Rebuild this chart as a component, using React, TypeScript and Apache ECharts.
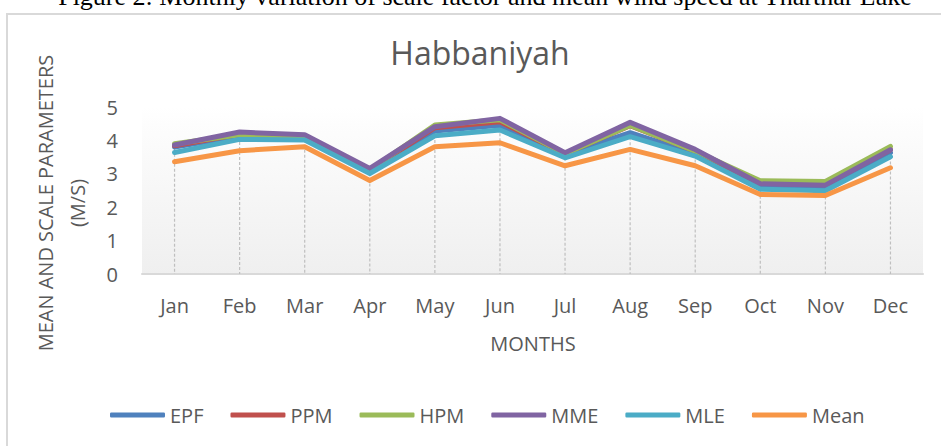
import React, { useEffect, useRef } from "react";
import * as echarts from "echarts";

const months = ["Jan", "Feb", "Mar", "Apr", "May", "Jun", "Jul", "Aug", "Sep", "Oct", "Nov", "Dec"];
const yTicks = [0, 1, 2, 3, 4, 5];
const seriesNames = ["EPF", "PPM", "HPM", "MME", "MLE", "Mean"];
const EPF = [3.8, 4.12, 4.08, 3.1, 4.28, 4.45, 3.58, 4.23, 3.6, 2.64, 2.6, 3.63];
const PPM = [3.84, 4.18, 4.12, 3.12, 4.38, 4.56, 3.6, 4.44, 3.68, 2.72, 2.68, 3.72];
const HPM = [3.9, 4.17, 4.12, 3.12, 4.46, 4.62, 3.6, 4.45, 3.68, 2.79, 2.77, 3.82];
const MME = [3.86, 4.25, 4.17, 3.16, 4.41, 4.66, 3.63, 4.54, 3.73, 2.7, 2.66, 3.72];
const MLE = [3.64, 4.03, 4.01, 3.01, 4.14, 4.31, 3.48, 4.11, 3.53, 2.54, 2.49, 3.51];
const Mean = [3.36, 3.69, 3.81, 2.8, 3.81, 3.93, 3.24, 3.73, 3.24, 2.38, 2.35, 3.18];
const seriesValues = [EPF, PPM, HPM, MME, MLE, Mean];
const colors = ["#4f81bd", "#c0504d", "#9bbb59", "#8064a2", "#4bacc6", "#f79646"];

const chartTitle = "Habbaniyah";
const caption = "Figure 2: Monthly variation of scale factor and mean wind speed at Tharthar Lake";
const xName = "MONTHS";
const yName = "MEAN AND SCALE PARAMETERS\n(M/S)";

const FONT = "'Open Sans', sans-serif";
const TEXT = "#595959";

export default function App() {
  const ref = useRef<HTMLDivElement>(null);
  useEffect(() => {
    document.body.style.margin = "0";
    if (!ref.current) return;
    const chart = echarts.init(ref.current, undefined, { renderer: "svg" });
    const dropData = months.map((_, i) => [i, Math.max(...seriesValues.map((s) => s[i]))]);
    const option: any = {
      animation: false,
      backgroundColor: "#ffffff",
      textStyle: { fontFamily: FONT },
      grid: {
        left: 142,
        right: 18,
        top: 107,
        bottom: 172,
        show: true,
        borderWidth: 0,
        backgroundColor: new echarts.graphic.LinearGradient(0, 0, 0, 1, [
          { offset: 0, color: "#ffffff" },
          { offset: 0.1, color: "#fdfdfd" },
          { offset: 1, color: "#efefef" },
        ]),
      },
      xAxis: {
        type: "category",
        data: months,
        boundaryGap: true,
        axisLine: { show: true, lineStyle: { color: "#d9d9d9", width: 2 } },
        axisTick: { show: false },
        splitLine: { show: false },
        axisLabel: { color: TEXT, fontSize: 20, fontFamily: FONT, margin: 21, interval: 0 },
      },
      yAxis: {
        type: "value",
        min: 0,
        max: 5,
        interval: 1,
        axisLine: { show: false },
        axisTick: { show: false },
        splitLine: { show: false },
        axisLabel: {
          color: TEXT,
          fontSize: 20,
          fontFamily: FONT,
          margin: 24,
          formatter: (v: number) => (yTicks.includes(v) ? String(v) : ""),
        },
      },
      legend: {
        data: seriesNames,
        left: 105,
        top: 400,
        icon: "roundRect",
        itemWidth: 55,
        itemHeight: 5,
        itemGap: 27,
        textStyle: { color: TEXT, fontSize: 20, fontFamily: FONT },
      },
      graphic: [
        {
          type: "rect",
          shape: { x: 7, y: 14, width: 980, height: 480 },
          style: { fill: "none", stroke: "#d9d9d9", lineWidth: 2 },
          silent: true,
          z: -10,
        },
        {
          type: "text",
          x: 485,
          y: -4,
          style: {
            text: caption,
            fill: "#000000",
            font: "26px 'Liberation Serif', 'Times New Roman', serif",
            align: "center",
            verticalAlign: "middle",
          },
        },
        {
          type: "text",
          x: 480,
          y: 52,
          style: {
            text: chartTitle,
            fill: TEXT,
            font: "32px " + FONT,
            align: "center",
            verticalAlign: "middle",
          },
        },
        {
          type: "text",
          x: 533,
          y: 343,
          style: {
            text: xName,
            fill: TEXT,
            font: "20px " + FONT,
            align: "center",
            verticalAlign: "middle",
          },
        },
        {
          type: "text",
          x: 61,
          y: 203,
          rotation: Math.PI / 2,
          style: {
            text: yName,
            fill: TEXT,
            font: "20px " + FONT,
            align: "center",
            verticalAlign: "middle",
            lineHeight: 32,
          },
        },
      ],
      series: [
        {
          type: "custom",
          name: "drop",
          silent: true,
          z: 1,
          data: dropData,
          renderItem: (params: any, api: any) => {
            const top = api.coord([api.value(0), api.value(1)]);
            const bottom = api.coord([api.value(0), 0]);
            return {
              type: "line",
              shape: { x1: top[0], y1: top[1], x2: bottom[0], y2: bottom[1] },
              style: { stroke: "#bfbfbf", lineWidth: 1.2, lineDash: [3, 2] },
            };
          },
        },
        ...seriesNames.map((name, k) => ({
          type: "line",
          name,
          data: seriesValues[k],
          z: 2 + k,
          symbol: "none",
          smooth: false,
          color: colors[k],
          lineStyle: { color: colors[k], width: 5, cap: "round", join: "round" },
        })),
      ],
    };
    chart.setOption(option);
    return () => chart.dispose();
  }, []);
  return <div ref={ref} style={{ width: 941, height: 446 }} />;
}
